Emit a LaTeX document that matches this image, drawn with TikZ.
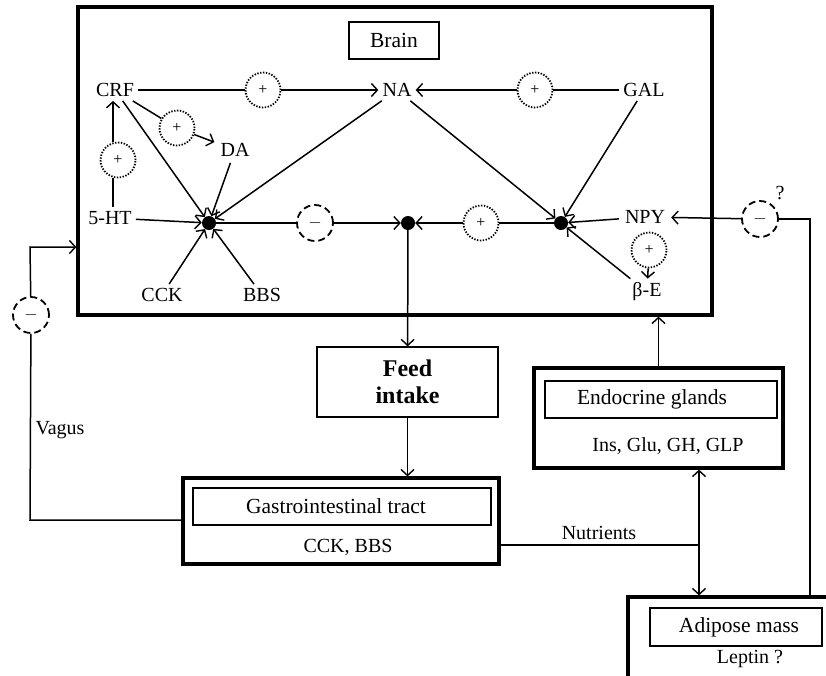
\documentclass[tikz,border=0pt]{standalone}
\usepackage{fontspec}
\setmainfont{Liberation Serif}
\usetikzlibrary{arrows.meta,calc}
\begin{document}
\begin{tikzpicture}[x=1pt,y=-1pt,
  lbl/.style={inner sep=4pt, font=\fontsize{20}{23}\selectfont},
  tlbl/.style={inner sep=4pt, font=\fontsize{21.5}{24}\selectfont},
  plus/.style={circle, draw, fill=white, line width=1.8pt, dash pattern=on 1.4pt off 1.5pt, minimum size=35pt, inner sep=0pt, font=\fontsize{16}{16}\selectfont},
  minus/.style={circle, draw, fill=white, line width=1.8pt, dash pattern=on 7pt off 4pt, minimum size=36pt, inner sep=0pt, font=\fontsize{16}{16}\selectfont},
  jdot/.style={circle, fill=black, minimum size=14pt, inner sep=0pt},
  ln/.style={line width=1.5pt},
  arr/.style={ln, -{Straight Barb[length=6pt,width=13pt,line width=1.4pt]}},
  darr/.style={ln, {Straight Barb[length=6pt,width=13pt,line width=1.4pt]}-{Straight Barb[length=6pt,width=13pt,line width=1.4pt]}},
  bigbox/.style={draw, line width=3.2pt, inner sep=0pt},
  ibox/.style={draw, line width=1.4pt, inner sep=0pt},
]
\useasboundingbox (0,0) rectangle (826,675);
\fill[white] (0,0) rectangle (826,675);
\begin{scope}
\clip (0,0) rectangle (826,675);

% boxes
\node[bigbox, minimum width=634pt, minimum height=308pt] (brain) at (395,161) {};
\node[ibox, minimum width=90pt, minimum height=37pt, tlbl] (brainlbl) at (394,40.5) {Brain};
\node[draw, line width=1.4pt, minimum width=181pt, minimum height=70pt, align=center, font=\fontsize{24}{27}\selectfont\bfseries] (feed) at (407.5,382) {Feed\\intake};
\node[bigbox, minimum width=316pt, minimum height=86pt] (gi) at (341,521) {};
\node[ibox, minimum width=298pt, minimum height=37pt] (giin) at (342,506.5) {};
\node[tlbl] (gitxt) at (336,506.5) {Gastrointestinal tract};
\node[lbl] (gisub) at (348,547) {CCK, BBS};
\node[bigbox, minimum width=249pt, minimum height=100pt] (endo) at (658.5,418) {};
\node[ibox, minimum width=232pt, minimum height=37pt] (endoin) at (661,399.5) {};
\node[tlbl] (endotxt) at (652,399.5) {Endocrine glands};
\node[lbl] (endosub) at (668,446) {Ins, Glu, GH, GLP};
\node[bigbox, minimum width=208pt, minimum height=93pt] (adip) at (732,643.5) {};
\node[ibox, minimum width=172pt, minimum height=38pt] (adipin) at (736,627) {};
\node[tlbl] (adiptxt) at (739,627) {Adipose mass};
\node[lbl] (adipsub) at (750,659) {Leptin ?};

% text nodes in brain
\node[lbl] (CRF) at (115,90) {CRF};
\node[lbl] (NA) at (397,90) {NA};
\node[lbl] (GAL) at (644,90) {GAL};
\node[lbl, inner sep=6pt] (DA) at (235,150) {DA};
\node[lbl] (HT) at (110,218) {5-HT};
\node[lbl] (CCK) at (162,295) {CCK};
\node[lbl] (BBS) at (262,295) {BBS};
\node[lbl, inner sep=6pt] (NPY) at (645,217) {NPY};
\node[lbl] (bE) at (647,292) {β-E};

% junctions
\node[jdot] (L) at (209,223) {};
\node[jdot] (C) at (408,223) {};
\node[jdot] (R) at (561,223) {};

% modulators
\node[plus] (p1) at (263,90) {+};
\node[plus] (p2) at (535,90) {+};
\node[plus] (p3) at (177,128) {+};
\node[plus] (p4) at (118,160) {+};
\node[plus] (p5) at (481,223) {+};
\node[plus] (p6) at (649,250) {+};
\node[minus] (m1) at (315,223) {$-$};
\node[minus] (m2) at (760,219) {$-$};
\node[minus] (m3) at (31,315) {$-$};
\node[lbl] (q) at (780,193) {?};
\node[lbl] (vag) at (60,430) {Vagus};
\node[lbl] (nut) at (599,533) {Nutrients};

% brain connectors
\draw[ln] (CRF) -- (p1);
\draw[arr] (p1) -- (NA);
\draw[ln] (GAL) -- (p2);
\draw[arr] (p2) -- (NA);
\draw[ln] (CRF) -- (p3);
\draw[arr] (p3) -- (DA);
\draw[ln] ($(HT.north)+(3,0)$) -- ($(p4.south)+(-5,0)$);
\draw[arr] ($(p4.north)+(-5,0)$) -- ($(CRF.south)+(-2,0)$);
\foreach \s in {CRF,DA,NA,HT,CCK,BBS} \draw[arr] (\s) -- (L);
\foreach \s in {NA,GAL,NPY,bE} \draw[arr] (\s) -- (R);
\draw[ln] (L) -- (m1);
\draw[arr] (m1) -- (C);
\draw[ln] (R) -- (p5);
\draw[arr] (p5) -- (C);
\draw[arr] (p6) -- (bE);

% outside connectors
\draw[arr] (C) -- (feed);
\draw[arr] (feed) -- (feed.south |- gi.north);
\draw[arr] (endo.north) -- (endo.north |- brain.south);
\coordinate (v1) at (30,520);
\coordinate (v2) at (30,247);
\draw[ln] (gi.west |- v1) -- (v1) -- (m3);
\draw[arr] (m3) -- (v2) -- (v2 -| brain.west);
\coordinate (nj) at (699,545);
\draw[ln] (nj -| gi.east) -- (nj);
\draw[darr] (nj |- endo.south) -- (nj |- adip.north);
\coordinate (a1) at (810,597);
\coordinate (a2) at (810,219);
\draw[ln] (a1) -- (a2) -- (m2);
\draw[arr] (m2) -- (NPY);
\end{scope}
\end{tikzpicture}
\end{document}
